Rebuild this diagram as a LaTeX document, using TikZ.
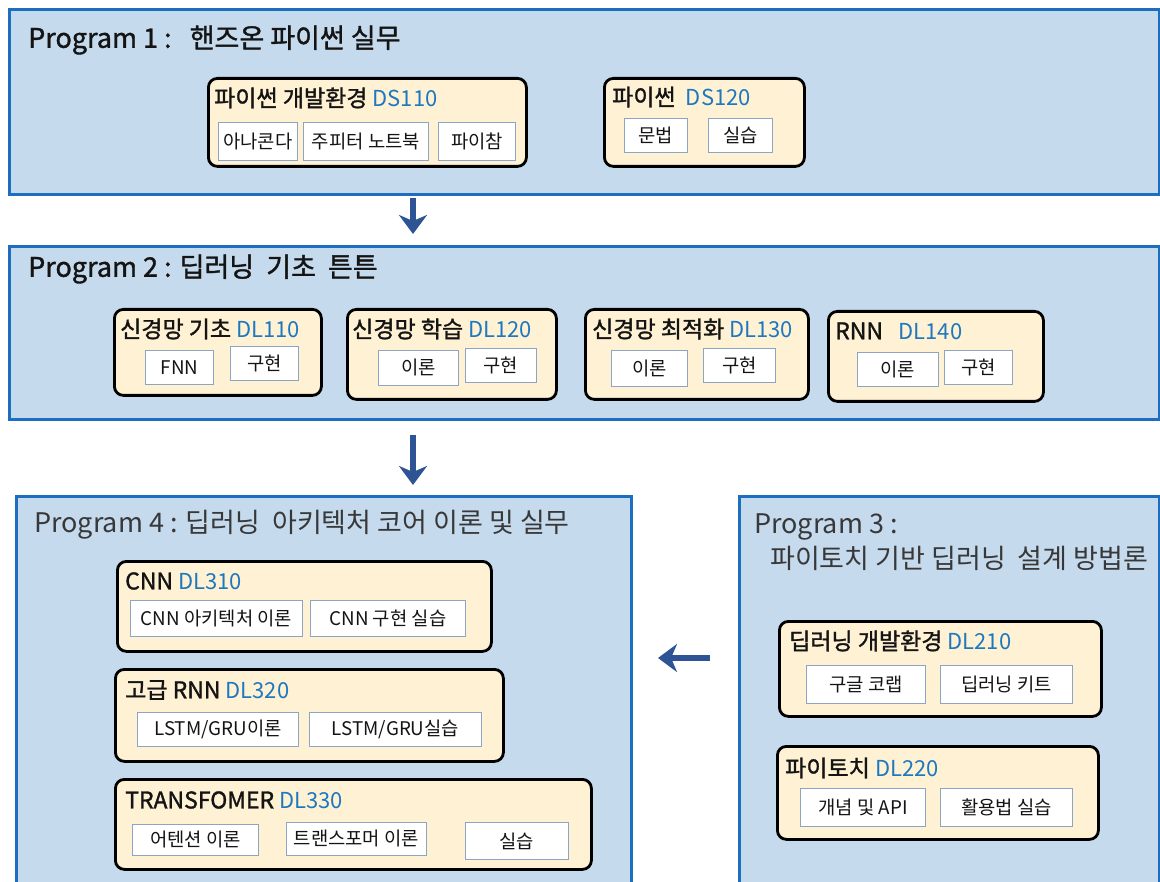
\documentclass[tikz,border=0pt]{standalone}
\usepackage{fontspec}
\setmainfont{Noto Sans CJK KR}
\newfontfamily\medfont{Noto Sans CJK KR}[FakeBold=1.3]
\usetikzlibrary{arrows.meta}
\definecolor{pfill}{RGB}{198,218,238}
\definecolor{pborder}{RGB}{30,110,192}
\definecolor{cfill}{RGB}{255,241,211}
\definecolor{sborder}{RGB}{140,165,195}
\definecolor{codec}{RGB}{30,120,192}
\definecolor{arrowc}{RGB}{47,84,150}
\definecolor{ptext}{RGB}{20,20,20}
\newcommand\code[1]{{\normalfont\fontsize{22}{25}\selectfont\textcolor{codec}{#1}}}
\begin{document}
\begin{tikzpicture}[x=1pt,y=-1pt,
  panel/.style={draw=pborder, line width=3pt, fill=pfill, anchor=north west, inner sep=0pt},
  course/.style={draw=black, line width=2.8pt, fill=cfill, rounded corners=9pt, anchor=north west, inner sep=0pt},
  sub/.style={draw=sborder, line width=0.9pt, fill=white, anchor=north west, inner sep=0pt, font=\fontsize{18.8}{22}\selectfont, text=ptext},
  ptitle/.style={anchor=west, inner sep=0pt, font=\medfont\fontsize{27}{31}\selectfont, text=ptext},
  ptitlel/.style={anchor=west, inner sep=0pt, font=\fontsize{27}{31}\selectfont, text=black!78},
  ctitle/.style={anchor=west, inner sep=0pt, font=\medfont\fontsize{23}{27}\selectfont, text=ptext},
  arr/.style={draw=arrowc, line width=6pt, -{Stealth[length=19pt,width=28pt,inset=6pt]}}
]
\useasboundingbox (0,0) rectangle (1160,882);
\fill[white] (0,0) rectangle (1160,882);

% ---------- Program 1
\node[panel, minimum width=1150pt, minimum height=185pt] (p1) at (8,8) {};
\node[ptitle] (p1t) at (28,40) {Program 1 :\ \ \ 핸즈온 파이썬 실무};

\node[course, minimum width=318pt, minimum height=88pt] (ds110) at (207,77) {};
\node[ctitle] (ds110t) at (214,98) {파이썬 개발환경 \code{DS110}};
\node[sub, minimum width=79pt, minimum height=38pt] (s11) at (218,122) {아나콘다};
\node[sub, minimum width=125pt, minimum height=38pt] (s12) at (303,122) {주피터 노트북};
\node[sub, minimum width=77pt, minimum height=38pt] (s13) at (438,122) {파이참};

\node[course, minimum width=200pt, minimum height=88pt] (ds120) at (603,77) {};
\node[ctitle] (ds120t) at (612,97) {파이썬\ \ \code{DS120}};
\node[sub, minimum width=63pt, minimum height=34pt] (s21) at (624,118) {문법};
\node[sub, minimum width=64pt, minimum height=34pt] (s22) at (708,118) {실습};

% ---------- Program 2
\node[panel, minimum width=1150pt, minimum height=173pt] (p2) at (8,245) {};
\node[ptitle] (p2t) at (28,269) {Program 2 : 딥러닝\ \ 기초\ \ 튼튼};

\node[course, minimum width=207pt, minimum height=86pt] (dl110) at (113,308) {};
\node[ctitle] (dl110t) at (120,329) {신경망 기초\ \code{DL110}};
\node[sub, minimum width=68pt, minimum height=34pt] (s31) at (145,350) {FNN};
\node[sub, minimum width=68pt, minimum height=34pt] (s32) at (230,346) {구현};

\node[course, minimum width=209pt, minimum height=90pt] (dl120) at (346,308) {};
\node[ctitle] (dl120t) at (352,329) {신경망 학습\ \code{DL120}};
\node[sub, minimum width=80pt, minimum height=35pt] (s41) at (378,350) {이론};
\node[sub, minimum width=71pt, minimum height=34pt] (s42) at (465,348) {구현};

\node[course, minimum width=223pt, minimum height=90pt] (dl130) at (584,308) {};
\node[ctitle] (dl130t) at (592,329) {신경망 최적화\ \code{DL130}};
\node[sub, minimum width=76pt, minimum height=36pt] (s51) at (611,350) {이론};
\node[sub, minimum width=72pt, minimum height=34pt] (s52) at (703,348) {구현};

\node[course, minimum width=215pt, minimum height=90pt] (dl140) at (827,310) {};
\node[ctitle] (dl140t) at (835,331) {RNN\ \ \ \code{DL140}};
\node[sub, minimum width=81pt, minimum height=34pt] (s61) at (857,352) {이론};
\node[sub, minimum width=68pt, minimum height=34pt] (s62) at (944,350) {구현};

% ---------- Program 4
\node[panel, minimum width=615pt, minimum height=400pt] (p4) at (15,495) {};
\node[ptitlel] (p4t) at (34,525) {Program 4 : 딥러닝\ \ 아키텍처 코어 이론 및 실무};

\node[course, minimum width=374pt, minimum height=90pt] (dl310) at (116,560) {};
\node[ctitle] (dl310t) at (125,581) {CNN \code{DL310}};
\node[sub, minimum width=172pt, minimum height=36pt] (s71) at (130,600) {CNN 아키텍처 이론};
\node[sub, minimum width=155pt, minimum height=36pt] (s72) at (310,600) {CNN 구현 실습};

\node[course, minimum width=388pt, minimum height=92pt] (dl320) at (114,668) {};
\node[ctitle] (dl320t) at (125,690) {고급 RNN \code{DL320}};
\node[sub, minimum width=161pt, minimum height=34pt] (s81) at (137,712) {LSTM/GRU이론};
\node[sub, minimum width=172pt, minimum height=34pt] (s82) at (309,712) {LSTM/GRU실습};

\node[course, minimum width=476pt, minimum height=90pt] (dl330) at (114,778) {};
\node[ctitle] (dl330t) at (125,800) {TRANSFOMER \code{DL330}};
\node[sub, minimum width=126pt, minimum height=31pt] (s91) at (132,824) {어텐션 이론};
\node[sub, minimum width=140pt, minimum height=33pt] (s92) at (286,822) {트랜스포머 이론};
\node[sub, minimum width=103pt, minimum height=37pt] (s93) at (465,822) {실습};

% ---------- Program 3
\node[panel, minimum width=420pt, minimum height=400pt] (p3) at (738,495) {};
\node[ptitlel] (p3t) at (754,527) {Program 3 :};
\node[ptitlel] (p3t2) at (770,558) {파이토치 기반 딥러닝\ \ 설계 방법론};

\node[course, minimum width=322pt, minimum height=95pt] (dl210) at (778,620) {};
\node[ctitle] (dl210t) at (789,641) {딥러닝 개발환경 \code{DL210}};
\node[sub, minimum width=119pt, minimum height=38pt] (sa1) at (806,665) {구글 코랩};
\node[sub, minimum width=132pt, minimum height=38pt] (sa2) at (940,665) {딥러닝 키트};

\node[course, minimum width=321pt, minimum height=93pt] (dl220) at (776,745) {};
\node[ctitle] (dl220t) at (785,768) {파이토치 \code{DL220}};
\node[sub, minimum width=125pt, minimum height=38pt] (sb1) at (800,788) {개념 및 API};
\node[sub, minimum width=132pt, minimum height=38pt] (sb2) at (940,788) {활용법 실습};

% ---------- arrows
\draw[arr, shorten <=2pt, shorten >=11pt] (p1.south -| 413,0) -- (p2.north -| 413,0);
\draw[arr, shorten <=14pt, shorten >=10pt] (p2.south -| 413,0) -- (p4.north -| 413,0);
\draw[arr, shorten <=28pt, shorten >=25pt] (p3.west |- 0,658) -- (p4.east |- 0,658);
\end{tikzpicture}
\end{document}
